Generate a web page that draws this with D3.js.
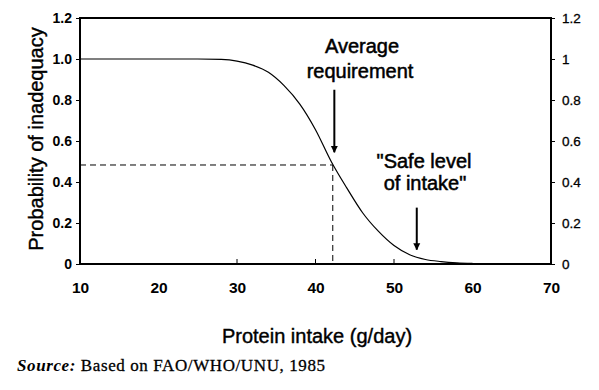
<!DOCTYPE html>
<html lang="en">
<head>
<meta charset="UTF-8">
<title>Probability of inadequacy</title>
<script src="https://d3js.org/d3.v7.min.js"></script>
<style>
  body { margin: 0; background: #fff; }
  svg text { font-family: "Liberation Sans", Arial, sans-serif; fill: #000; }
</style>
</head>
<body>
<script>
// protein intake (g/day) and probability of inadequacy
var intake = [10, 15, 20, 25, 28, 30, 32, 34, 36, 38, 40, 42, 44, 46, 48, 50, 52, 54, 56, 58, 60];
var prob   = [1, 1, 1, 1, 0.998, 0.99, 0.97, 0.935, 0.87, 0.78, 0.655, 0.50, 0.37, 0.25, 0.16, 0.09, 0.045, 0.022, 0.012, 0.006, 0.003];

var xTicks = [10, 20, 30, 40, 50, 60, 70];
var yTicks = [0, 0.2, 0.4, 0.6, 0.8, 1.0, 1.2];
var yLabelsLeft  = ["0", "0.2", "0.4", "0.6", "0.8", "1.0", "1.2"];
var yLabelsRight = ["0", "0.2", "0.4", "0.6", "0.8", "1", "1.2"];

// reference points
var avgReq = 42.2, avgProb = 0.483;
var safeLevel = 52.9;

var width = 599, height = 390;
var svg = d3.select("body").append("svg")
  .attr("width", width)
  .attr("height", height);

var x = d3.scaleLinear().domain([10, 70]).range([80, 551]);
var y = d3.scaleLinear().domain([0, 1.2]).range([264, 18]);

// frame
svg.append("rect")
  .attr("x", x(10)).attr("y", y(1.2))
  .attr("width", x(70) - x(10)).attr("height", y(0) - y(1.2))
  .attr("fill", "none").attr("stroke", "#000").attr("stroke-width", 2);

// left axis
var left = svg.append("g").attr("transform", "translate(" + x(10) + ",0)")
  .call(d3.axisLeft(y).tickValues(yTicks).tickSize(4).tickPadding(4)
    .tickFormat(function(d, i) { return yLabelsLeft[i]; }));
left.select(".domain").remove();
left.selectAll("text").style("font-size", "14px").style("font-weight", "bold");

// right axis
var right = svg.append("g").attr("transform", "translate(" + x(70) + ",0)")
  .call(d3.axisRight(y).tickValues(yTicks).tickSize(4).tickPadding(7)
    .tickFormat(function(d, i) { return yLabelsRight[i]; }));
right.select(".domain").remove();
right.selectAll("text").style("font-size", "13.5px").style("stroke", "#000").style("stroke-width", 0.3);

// bottom axis, small inward ticks
var bottom = svg.append("g").attr("transform", "translate(0," + y(0) + ")")
  .call(d3.axisBottom(x).tickValues(xTicks).tickSize(0).tickPadding(18).tickFormat(d3.format("d")));
bottom.select(".domain").remove();
bottom.selectAll("text").style("font-size", "15.5px").style("font-weight", "bold");

svg.append("g").selectAll("line")
  .data([30, 40, 50])
  .enter().append("line")
  .attr("x1", function(d) { return x(d); }).attr("x2", function(d) { return x(d); })
  .attr("y1", y(0)).attr("y2", y(0) - 5)
  .attr("stroke", "#000").attr("stroke-width", 1);

// dashed guides
svg.append("line")
  .attr("x1", x(10)).attr("x2", x(avgReq))
  .attr("y1", y(avgProb)).attr("y2", y(avgProb))
  .attr("stroke", "#000").attr("stroke-width", 1).attr("stroke-dasharray", "6,4");
svg.append("line")
  .attr("x1", x(avgReq)).attr("x2", x(avgReq))
  .attr("y1", y(avgProb)).attr("y2", y(0))
  .attr("stroke", "#000").attr("stroke-width", 1).attr("stroke-dasharray", "6,4");

// curve
var pts = intake.map(function(d, i) { return [d, prob[i]]; });
svg.append("path")
  .datum(pts)
  .attr("d", d3.line()
    .x(function(d) { return x(d[0]); })
    .y(function(d) { return y(d[1]); })
    .curve(d3.curveMonotoneX))
  .attr("fill", "none").attr("stroke", "#000").attr("stroke-width", 1.2);

// arrows
svg.append("defs").append("marker")
  .attr("id", "head").attr("viewBox", "0 0 10 10")
  .attr("refX", 9).attr("refY", 5)
  .attr("markerWidth", 7).attr("markerHeight", 9)
  .attr("markerUnits", "userSpaceOnUse")
  .attr("orient", "auto")
  .append("path").attr("d", "M0,0 L10,5 L0,10 z").attr("fill", "#000");

function arrow(xv, y0, y1) {
  svg.append("line")
    .attr("x1", x(xv)).attr("x2", x(xv))
    .attr("y1", y(y0)).attr("y2", y(y1))
    .attr("stroke", "#000").attr("stroke-width", 2)
    .attr("marker-end", "url(#head)");
}
arrow(42.4, 0.85, 0.545);
arrow(safeLevel, 0.275, 0.07);

// annotations
var notes = svg.append("g").style("font-size", "20px").attr("text-anchor", "middle")
  .style("stroke", "#000").style("stroke-width", 0.5);
notes.append("text").attr("x", 362).attr("y", 53).text("Average");
notes.append("text").attr("x", 360).attr("y", 78).text("requirement");
notes.append("text").attr("x", 424).attr("y", 168).text("\"Safe level");
notes.append("text").attr("x", 425).attr("y", 190).text("of intake\"");

// axis titles
svg.append("text")
  .attr("transform", "translate(43,139) rotate(-90)")
  .attr("text-anchor", "middle").style("font-size", "20px")
  .style("stroke", "#000").style("stroke-width", 0.4)
  .text("Probability of inadequacy");
svg.append("text")
  .attr("x", 317).attr("y", 343)
  .attr("text-anchor", "middle").style("font-size", "20px")
  .style("stroke", "#000").style("stroke-width", 0.4)
  .text("Protein intake (g/day)");

// source line
var src = svg.append("text").attr("x", 17).attr("y", 371)
  .style("font-family", "Liberation Serif, Times New Roman, serif").style("font-size", "17px")
  .style("letter-spacing", "0.6px");
src.append("tspan").style("font-style", "italic").style("font-weight", "bold")
  .style("font-family", "Liberation Serif, serif").text("Source:");
src.append("tspan").style("font-family", "Liberation Serif, serif")
  .style("stroke", "#000").style("stroke-width", 0.3)
  .text(" Based on FAO/WHO/UNU, 1985");
</script>
</body>
</html>
